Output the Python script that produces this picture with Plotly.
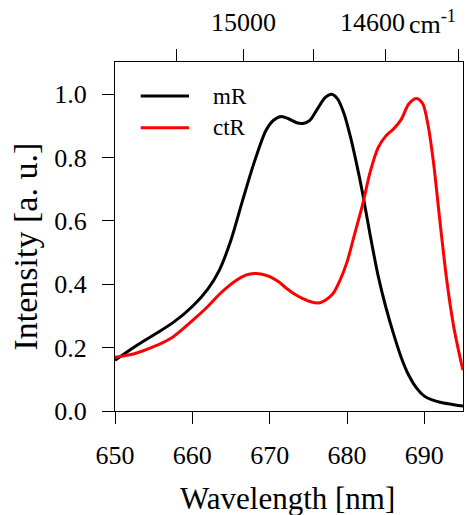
import plotly.graph_objects as go

# Data
mr_x = [650, 652.5, 655, 657.5, 660, 662, 663.5, 665, 666.5, 668, 669.5, 670.5, 671.5,
        672.5, 673.5, 674.3, 675.2, 676.2, 677.2, 678, 678.8, 679.6, 680.4, 681.2, 682,
        683, 684, 685, 686, 687, 688, 689, 690, 691, 692.5, 694, 695]
mr_y = [0.16, 0.202, 0.24, 0.279, 0.33, 0.385, 0.445, 0.54, 0.665, 0.785, 0.885, 0.918, 0.93,
        0.922, 0.91, 0.908, 0.918, 0.955, 0.99, 1.0, 0.985, 0.94, 0.87, 0.785, 0.69,
        0.555, 0.43, 0.33, 0.245, 0.17, 0.112, 0.072, 0.047, 0.035, 0.025, 0.019, 0.016]

ctr_x = [650, 652.5, 655, 657.5, 660, 662, 663.6, 665.7, 667, 668, 669, 670, 671.2,
         672.2, 673.3, 674.3, 675.3, 676.3, 677.2, 678.2, 679.1, 680, 681, 682, 683,
         684, 685, 686, 687, 688, 689, 689.8, 690.5, 691.2, 692, 692.9, 693.8, 694.6, 695]
ctr_y = [0.17, 0.181, 0.203, 0.234, 0.285, 0.33, 0.371, 0.413, 0.43, 0.434, 0.432, 0.424, 0.407,
         0.387, 0.368, 0.355, 0.345, 0.341, 0.35, 0.371, 0.413, 0.47, 0.56, 0.65, 0.755,
         0.83, 0.868, 0.89, 0.92, 0.97, 0.987, 0.97, 0.9, 0.782, 0.603, 0.413, 0.266, 0.171, 0.129]

x_ticks = [650, 660, 670, 680, 690]
y_ticks = [0.0, 0.2, 0.4, 0.6, 0.8, 1.0]
y_ticktext = ["0.0", "0.2", "0.4", "0.6", "0.8", "1.0"]
wn_ticks = [15200, 15000, 14800, 14600, 14400]   # cm^-1
wn_label_a = "15000"
wn_label_b = "14600"
wn_unit = "cm<sup>-1</sup>"

series_names = ["mR", "ctR"]
series_colors = ["black", "red"]

FONT = "Liberation Serif"
TICKFONT = dict(family=FONT, size=26, color="black")
L, R, T, B = 115, 463, 62, 411
PW, PH = R - L, B - T


def px_x(px):
    return (px - L) / PW


def px_y(py):
    return (B - py) / PH


fig = go.Figure()
for name, xs, ys, col in zip(series_names, [mr_x, ctr_x], [mr_y, ctr_y], series_colors):
    fig.add_trace(go.Scatter(x=xs, y=ys, mode="lines", name=name,
                             line=dict(color=col, width=3, shape="spline", smoothing=0.8),
                             showlegend=False, cliponaxis=True))

# invisible trace for the top axis
fig.add_trace(go.Scatter(x=[650, 695], y=[0, 0], xaxis="x2", mode="lines",
                         line=dict(width=0), showlegend=False, hoverinfo="skip"))

wn_nm = [1e7 / w for w in wn_ticks]

fig.update_layout(
    width=468, height=515,
    margin=dict(l=L, r=468 - R, t=T, b=515 - B, autoexpand=False),
    plot_bgcolor="white", paper_bgcolor="white",
    font=dict(family=FONT, size=26, color="black"),
    xaxis=dict(range=[650, 695], tickvals=x_ticks, ticks="outside", ticklen=12, tickwidth=1,
               tickcolor="black", showline=True, linecolor="black", linewidth=1, mirror=True,
               showgrid=False, zeroline=False, tickfont=TICKFONT, automargin=False,
               ticklabelstandoff=9),
    yaxis=dict(range=[0, 1.102], tickvals=y_ticks, ticktext=y_ticktext, ticks="outside",
               ticklen=12, tickwidth=1, tickcolor="black", showline=True, linecolor="black",
               linewidth=1, mirror=True, showgrid=False, zeroline=False, tickfont=TICKFONT,
               automargin=False, ticklabelstandoff=10),
    xaxis2=dict(range=[650, 695], overlaying="x", side="top", tickvals=wn_nm,
                showticklabels=False, ticks="outside", ticklen=12, tickwidth=1,
                tickcolor="black", showline=False, showgrid=False, zeroline=False,
                automargin=False),
)

annotations = [
    dict(x=px_x(243.5), xref="paper", y=px_y(22), yref="paper", text=wn_label_a,
         showarrow=False, xanchor="center", yanchor="middle", font=TICKFONT),
    dict(x=px_x(372), xref="paper", y=px_y(22), yref="paper", text=wn_label_b,
         showarrow=False, xanchor="center", yanchor="middle", font=TICKFONT),
    dict(x=px_x(407), xref="paper", y=px_y(22), yref="paper", text=wn_unit,
         showarrow=False, xanchor="left", yanchor="middle", font=TICKFONT),
    dict(x=px_x(287.5), xref="paper", y=px_y(498), yref="paper", text="Wavelength [nm]",
         showarrow=False, xanchor="center", yanchor="middle",
         font=dict(family=FONT, size=31, color="black")),
    dict(x=px_x(25), xref="paper", y=px_y(246.5), yref="paper", text="Intensity [a. u.]",
         showarrow=False, xanchor="center", yanchor="middle", textangle=-90,
         font=dict(family=FONT, size=34, color="black")),
]

# manual legend
leg_y = [96, 127.7]
shapes = []
for name, col, py in zip(series_names, series_colors, leg_y):
    shapes.append(dict(type="line", xref="paper", yref="paper", x0=px_x(140.7),
                       x1=px_x(189), y0=px_y(py), y1=px_y(py), line=dict(color=col, width=3)))
    annotations.append(dict(x=px_x(211), xref="paper", y=px_y(py), yref="paper", text=name,
                            showarrow=False, xanchor="left", yanchor="middle",
                            font=dict(family=FONT, size=23, color="black")))

fig.update_layout(annotations=annotations, shapes=shapes)
fig.write_html("out.html", config={"displayModeBar": False},
               post_script="document.body.style.margin='0';document.body.style.overflow='hidden';")
